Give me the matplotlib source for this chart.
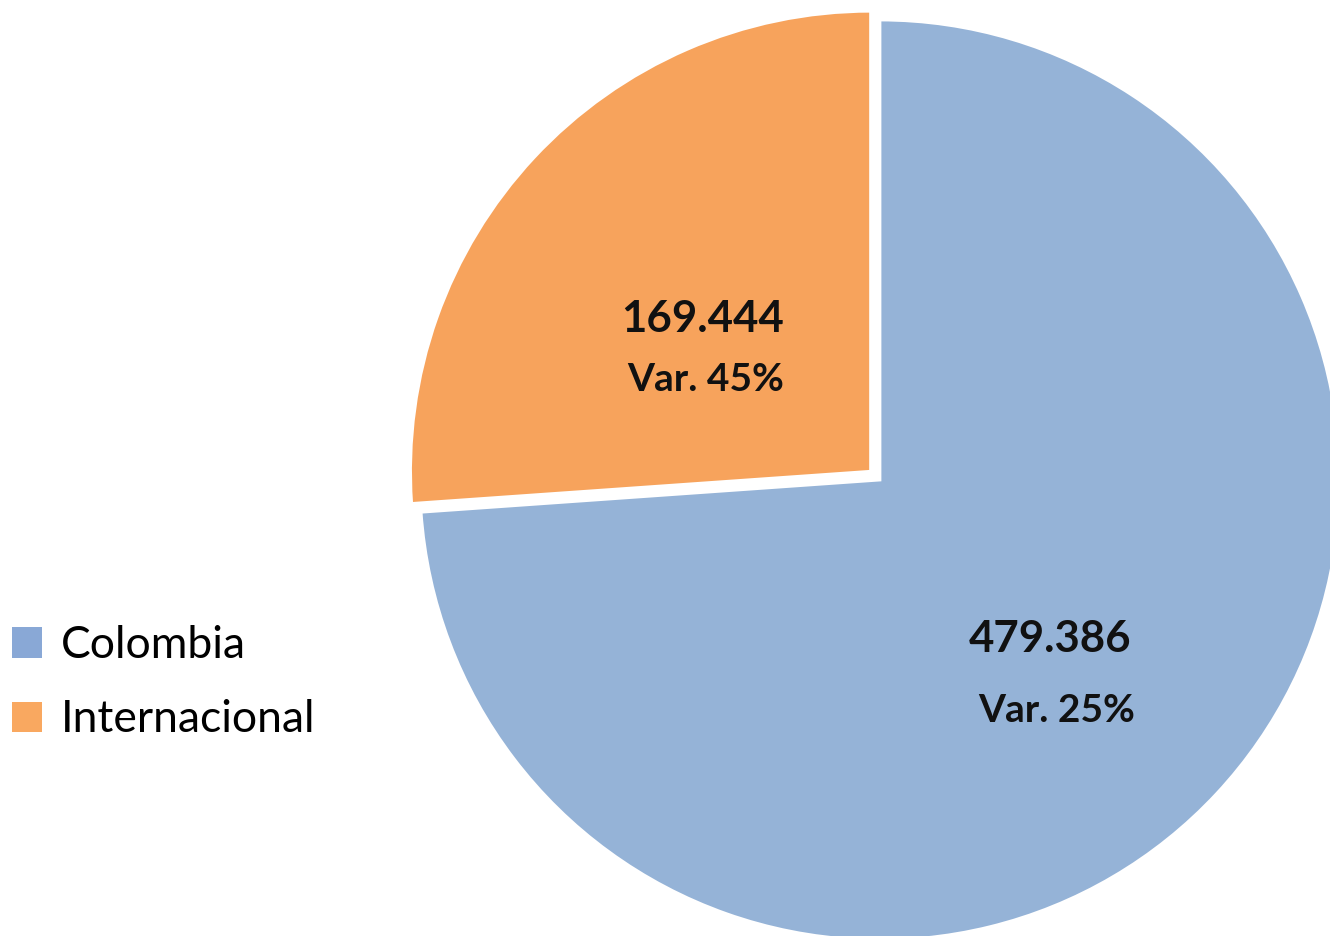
import matplotlib.pyplot as plt
from matplotlib.patches import Patch

# data
labels = ["Colombia", "Internacional"]
values = [479386, 169444]
value_text = ["479.386", "169.444"]
var_text = ["Var. 25%", "Var. 45%"]
pie_colors = ["#95B3D7", "#F7A35C"]
legend_colors = ["#89A8D6", "#F9A860"]

plt.rcParams['font.family'] = ['Lato', 'DejaVu Sans']

fig = plt.figure(figsize=(13.3, 9.36), dpi=100)
# pie center at (880, 480) px, radius 460 px, limits +-1.2
ax = fig.add_axes([0.2466, -0.1026, 0.8301, 1.1795])

ax.pie(values, colors=pie_colors, startangle=90, counterclock=False,
       explode=[0, 0.028], radius=1,
       wedgeprops=dict(edgecolor="white", linewidth=2))
ax.set_xlim(-1.2, 1.2)
ax.set_ylim(-1.2, 1.2)
ax.set_aspect("equal")
ax.axis("off")

# labels inside slices
ax.text(0.37, -0.346, value_text[0], ha="center", va="center",
        fontsize=31.5, fontweight="bold", color="#111111")
ax.text(0.383, -0.50, var_text[0], ha="center", va="center",
        fontsize=28, fontweight="bold", color="#111111")
ax.text(-0.385, 0.350, value_text[1], ha="center", va="center",
        fontsize=31.5, fontweight="bold", color="#111111")
ax.text(-0.380, 0.218, var_text[1], ha="center", va="center",
        fontsize=28, fontweight="bold", color="#111111")

handles = [Patch(facecolor=c, edgecolor="none") for c in legend_colors]
fig.legend(handles, labels, loc="center left",
           bbox_to_anchor=(0.009, 0.2705), frameon=False,
           fontsize=32, handlelength=0.68, handleheight=0.68,
           handletextpad=0.42, labelspacing=0.75, borderaxespad=0,
           borderpad=0)

fig.savefig("out.png", dpi=100)
